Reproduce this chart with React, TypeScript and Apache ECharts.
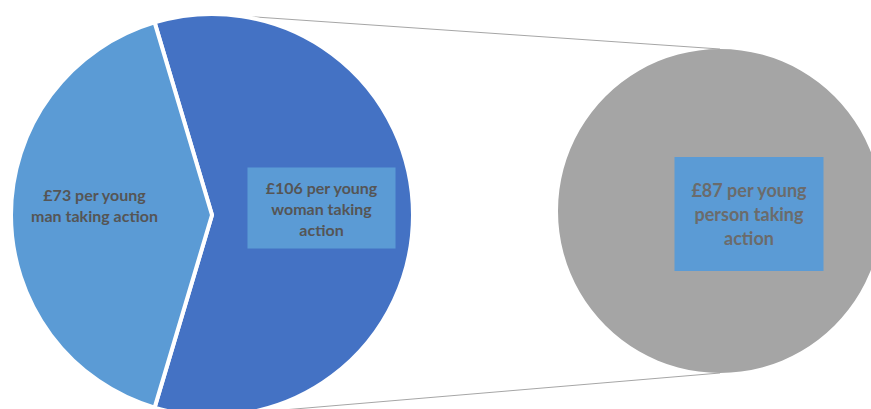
import React, { useEffect, useRef } from "react";
import * as echarts from "echarts";

// Data
const mainNames = ["Young women", "Young men"];
const mainValues = [106, 73];
const mainLabels = ["£106 per young\nwoman taking\naction", "£73 per young\nman taking action"];
const secondNames = ["Young people"];
const secondValues = [87];
const secondLabels = ["£87 per young\nperson taking\naction"];

const W = 871;
const H = 409;
const MAIN_C = [212, 215];
const MAIN_R = 201;
const SUB_C = [720, 211];
const SUB_R = 162;

export default function App() {
  const ref = useRef<HTMLDivElement>(null);
  useEffect(() => {
    if (!ref.current) return;
    const chart = echarts.init(ref.current, undefined, { renderer: "svg" });
    const total = mainValues.reduce((a, b) => a + b, 0);
    // centre the first slice on 3 o'clock
    const startAngle = (mainValues[0] / total) * 180;
    const font = "Lato, 'Open Sans', sans-serif";
    chart.setOption({
      animation: false,
      backgroundColor: "#ffffff",
      graphic: [
        {
          type: "line",
          z: -1,
          shape: { x1: MAIN_C[0], y1: MAIN_C[1] - MAIN_R, x2: SUB_C[0], y2: SUB_C[1] - SUB_R },
          style: { stroke: "#a6a6a6", lineWidth: 1 },
        },
        {
          type: "line",
          z: -1,
          shape: { x1: MAIN_C[0], y1: MAIN_C[1] + MAIN_R, x2: SUB_C[0], y2: SUB_C[1] + SUB_R },
          style: { stroke: "#a6a6a6", lineWidth: 1 },
        },
      ],
      series: [
        {
          type: "pie",
          center: MAIN_C,
          radius: [0, MAIN_R],
          startAngle,
          clockwise: true,
          silent: true,
          labelLine: { show: false },
          itemStyle: { borderColor: "#ffffff", borderWidth: 4 },
          data: [
            {
              name: mainNames[0],
              value: mainValues[0],
              itemStyle: { color: "#4472c4" },
              label: {
                show: true,
                position: "inside",
                formatter: mainLabels[0],
                offset: [6, -7],
                color: "#555555",
                fontFamily: font,
                fontWeight: "bold",
                fontSize: 16,
                lineHeight: 21,
                align: "center",
                backgroundColor: "#5b9bd5",
                width: 136,
                padding: [9, 6, 9, 6],
              },
            },
            {
              name: mainNames[1],
              value: mainValues[1],
              itemStyle: { color: "#5b9bd5" },
              label: {
                show: true,
                position: "inside",
                formatter: mainLabels[1],
                offset: [-14, -10],
                color: "#555555",
                fontFamily: font,
                fontWeight: "bold",
                fontSize: 16,
                lineHeight: 21,
                align: "center",
              },
            },
          ],
        },
        {
          type: "pie",
          center: SUB_C,
          radius: [0, SUB_R],
          silent: true,
          labelLine: { show: false },
          data: [
            {
              name: secondNames[0],
              value: secondValues[0],
              itemStyle: { color: "#a5a5a5" },
              label: {
                show: true,
                position: "center",
                formatter: secondLabels[0],
                offset: [29, 3],
                color: "#6b6b6b",
                fontFamily: font,
                fontWeight: "bold",
                fontSize: 18,
                lineHeight: 24,
                align: "center",
                backgroundColor: "#5b9bd5",
                width: 137,
                padding: [21, 6, 21, 6],
              },
            },
          ],
        },
      ],
    });
    return () => chart.dispose();
  }, []);
  return (
    <div
      ref={ref}
      style={{ position: "fixed", left: 0, top: 0, width: W, height: H }}
    />
  );
}
